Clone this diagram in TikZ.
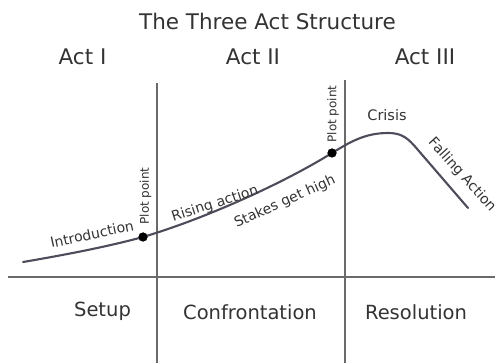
\documentclass[tikz,border=0pt]{standalone}
\usepackage{fontspec}
\setmainfont{DejaVu Sans}
\usepackage{xcolor}
\definecolor{inkgray}{HTML}{333333}
\definecolor{rulegray}{HTML}{6A6A6A}
\definecolor{curvegray}{HTML}{4C4C5A}
\begin{document}
\begin{tikzpicture}[x=1pt,y=-1pt,
    rule/.style={draw=rulegray,line width=1.2pt},
    arc/.style={draw=curvegray,line width=2.1pt,line cap=round},
    dot/.style={circle,fill=black,inner sep=0pt,minimum size=9pt},
    big/.style={text=inkgray,anchor=base,font=\fontsize{21.5}{24}\selectfont},
    mid/.style={text=inkgray,anchor=base,font=\fontsize{19.5}{22}\selectfont},
    small/.style={text=inkgray,font=\fontsize{14}{16}\selectfont},
    tiny/.style={text=inkgray,font=\fontsize{12}{14}\selectfont,rotate=90}]
  \useasboundingbox (0,0) rectangle (503,363);
  \node[big] (title) at (267.5,29.5) {The Three Act Structure};
  \node[big] (actI) at (82.5,65) {Act I};
  \node[big] (actII) at (253,65) {Act II};
  \node[big] (actIII) at (425,65) {Act III};
  \draw[rule] (157,83) -- (157,363);
  \draw[rule] (345,80) -- (345,363);
  \draw[rule] (8,277) -- (495,277);
  \node[mid] (setup) at (102.5,316) {Setup};
  \node[mid] (confront) at (250,319) {Confrontation};
  \node[mid] (resolve) at (416,319) {Resolution};
  \coordinate (start) at (23,262);
  \coordinate (peak) at (388,133);
  \coordinate (bend) at (418,150);
  \coordinate (finish) at (468,208);
  \node[dot] (pp1) at (143,237) {};
  \node[dot] (pp2) at (332,153) {};
  \draw[arc] (start) .. controls (70,254) and (110,246) .. (pp1.center)
    .. controls (210,217) and (287,181) .. (pp2.center)
    .. controls (350,142) and (365,133) .. (peak)
    .. controls (402,133) and (408,138) .. (bend) -- (finish);
  \node[dot] at (pp1) {};
  \node[dot] at (pp2) {};
  \node[small,rotate=12] (intro) at (92,234) {Introduction};
  \node[tiny] (plot1) at (145.5,196) {Plot point};
  \node[small,rotate=18] (rising) at (215,204) {Rising action};
  \node[small,rotate=24] (stakes) at (285,202) {Stakes get high};
  \node[tiny] (plot2) at (333,114) {Plot point};
  \node[small,font=\fontsize{14.5}{16}\selectfont] (crisis) at (387,115) {Crisis};
  \node[small,rotate=-48] (falling) at (462,175) {Falling Action};
\end{tikzpicture}
\end{document}
